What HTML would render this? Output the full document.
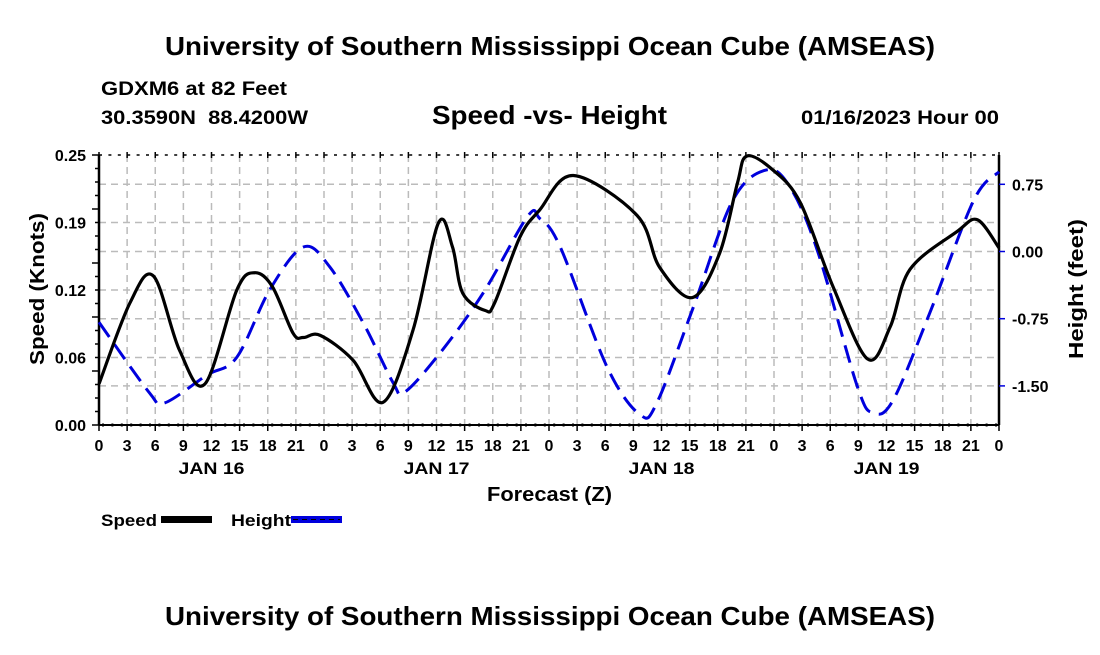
<!DOCTYPE html>
<html><head><meta charset="utf-8"><style>
body{margin:0;background:#fff;}
svg text{font-family:"Liberation Sans",Arial,sans-serif;font-weight:bold;fill:#000;}
</style></head><body>
<svg id="chart" width="1100" height="650" xmlns="http://www.w3.org/2000/svg">
<text x="165" y="55" font-size="26" textLength="770" lengthAdjust="spacingAndGlyphs">University of Southern Mississippi Ocean Cube (AMSEAS)</text>
<text x="101" y="95" font-size="19" textLength="186" lengthAdjust="spacingAndGlyphs">GDXM6 at 82 Feet</text>
<text x="101" y="124" font-size="19" textLength="207" lengthAdjust="spacingAndGlyphs" xml:space="preserve">30.3590N  88.4200W</text>
<text x="432" y="124" font-size="26" textLength="235" lengthAdjust="spacingAndGlyphs">Speed -vs- Height</text>
<text x="801" y="124" font-size="19" textLength="198" lengthAdjust="spacingAndGlyphs">01/16/2023 Hour 00</text>
<g id="grid"></g>
<g id="axes"></g>
<g id="series"></g>
<text x="487" y="501" font-size="20" textLength="125" lengthAdjust="spacingAndGlyphs">Forecast (Z)</text>
<text transform="translate(44,289) rotate(-90)" font-size="20" text-anchor="middle" textLength="152" lengthAdjust="spacingAndGlyphs">Speed (Knots)</text>
<text transform="translate(1083,289) rotate(-90)" font-size="20" text-anchor="middle" textLength="140" lengthAdjust="spacingAndGlyphs">Height (feet)</text>
<g>
<text x="101" y="526" font-size="17" textLength="56" lengthAdjust="spacingAndGlyphs">Speed</text>
<rect x="161" y="516" width="51" height="7" fill="#000"/>
<text x="231" y="526" font-size="17" textLength="60" lengthAdjust="spacingAndGlyphs">Height</text>
<rect x="291" y="516" width="51" height="7" fill="#0000dd"/>
<line x1="293" y1="519.5" x2="340" y2="519.5" stroke="#000" stroke-width="1" stroke-dasharray="5,4"/>
</g>
<text x="165" y="625" font-size="26" textLength="770" lengthAdjust="spacingAndGlyphs">University of Southern Mississippi Ocean Cube (AMSEAS)</text>
</svg>
<script>
const speedHours=[0,3.3,5.8,8.6,11.3,14.7,16.6,18.5,20.7,21.8,23.6,27.1,30.3,33.5,36.2,37.7,38.8,41.2,42.2,44.9,47,50.6,57.4,59.8,63.3,66.2,68.1,69.1,71.9,74.8,78.3,82.0,84.4,86.5,91.5,93.7,96];
const speedValues=[0.038,0.113,0.138,0.069,0.038,0.125,0.141,0.128,0.085,0.081,0.083,0.060,0.021,0.088,0.187,0.165,0.122,0.106,0.113,0.174,0.199,0.231,0.194,0.146,0.118,0.159,0.224,0.249,0.236,0.206,0.128,0.061,0.091,0.144,0.179,0.190,0.164];
const heightHours=[0,5.4,7.0,11.5,14.7,18.2,21.8,24.6,28.2,31.4,32.6,36.4,41.0,45.7,47,49.2,54.2,57.7,59.5,63.4,67.6,71.2,73.7,76.6,80.9,82.6,84.7,88.6,93.3,96];
const heightValues=[-0.79,-1.58,-1.69,-1.38,-1.18,-0.43,0.05,-0.17,-0.80,-1.47,-1.57,-1.13,-0.46,0.39,0.37,0.05,-1.29,-1.82,-1.69,-0.62,0.57,0.91,0.72,0.02,-1.51,-1.80,-1.66,-0.69,0.57,0.89];
const speedTicks=[0,0.0625,0.125,0.1875,0.25];
const speedTickLabels=["0.00","0.06","0.12","0.19","0.25"];
const heightTicks=[0.75,0,-0.75,-1.5];
const heightTickLabels=["0.75","0.00","-0.75","-1.50"];
const hourLabels=["0","3","6","9","12","15","18","21"];
const dayLabels=["JAN 16","JAN 17","JAN 18","JAN 19"];

const L=99,R=999,T=155,B=425;
const xS=h=>L+h*(R-L)/96;
const yS=v=>B-v*(B-T)/0.25;
const yH=f=>251.5-f*67.2/0.75;
const NS="http://www.w3.org/2000/svg";
function mk(parent,tag,attrs){const e=document.createElementNS(NS,tag);for(const k in attrs)e.setAttribute(k,attrs[k]);document.getElementById(parent).appendChild(e);return e;}
for(let i=1;i<32;i++){const g=mk('grid','line',{x1:xS(i*3),x2:xS(i*3),y1:T,y2:B,stroke:'#bbb','stroke-width':1.5,'stroke-dasharray':'7,5'});

}
[...speedTicks.slice(1,4).map(yS),...heightTicks.map(yH)].forEach(y=>{const g=mk('grid','line',{x1:L,x2:R,y1:y,y2:y,stroke:'#bbb','stroke-width':1.5,'stroke-dasharray':'7,5'});

});
mk('axes','line',{x1:L,x2:L,y1:T,y2:B,stroke:'#000','stroke-width':2.5});
mk('axes','line',{x1:R,x2:R,y1:T,y2:B,stroke:'#000','stroke-width':2.5});
mk('axes','line',{x1:L,x2:R,y1:B,y2:B,stroke:'#000','stroke-width':2});
mk('axes','line',{x1:L,x2:R,y1:T,y2:T,stroke:'#000','stroke-width':1.5,'stroke-dasharray':'3,6.4'});
mk('axes','line',{x1:L,x2:R,y1:B,y2:B,stroke:'#000','stroke-width':3,'stroke-dasharray':'2,7.4','stroke-dashoffset':'-3'});
for(let i=0;i<=32;i++){const x=xS(i*3);mk('axes','line',{x1:x,x2:x,y1:B,y2:B+6,stroke:'#000','stroke-width':1.5});mk('axes','line',{x1:x,x2:x,y1:T-3,y2:T+3,stroke:'#000','stroke-width':1.5});
const t=mk('axes','text',{x:x,y:451,'font-size':16,'text-anchor':'middle'});t.textContent=i==32?'0':hourLabels[i%8];

}
dayLabels.forEach((d,i)=>{const t=mk('axes','text',{x:xS(12+24*i),y:474,'font-size':17,'text-anchor':'middle',textLength:66,lengthAdjust:'spacingAndGlyphs'});t.textContent=d;

});
for(let i=0;i<=20;i++){const y=B-i*(B-T)/20;mk('axes','line',{x1:L-(i%4==0?7:4),x2:L,y1:y,y2:y,stroke:'#000','stroke-width':1.5});}
speedTicks.forEach((v,i)=>{const t=mk('axes','text',{x:86,y:yS(v)+6,'font-size':16,'text-anchor':'end'});t.textContent=speedTickLabels[i];

});
heightTicks.forEach((v,i)=>{mk('axes','line',{x1:R,x2:R+6,y1:yH(v),y2:yH(v),stroke:'#0000dd','stroke-width':1.5});
const t=mk('axes','text',{x:1012,y:yH(v)+6,'font-size':16});t.textContent=heightTickLabels[i];

});
function path(xs,ys){const p=xs.map((x,i)=>[x,ys[i]]);let d=`M${p[0][0]},${p[0][1]}`;
for(let i=0;i<p.length-1;i++){const p0=p[i-1]||p[i],p1=p[i],p2=p[i+1],p3=p[i+2]||p2;
d+=` C${p1[0]+(p2[0]-p0[0])/6},${p1[1]+(p2[1]-p0[1])/6} ${p2[0]-(p3[0]-p1[0])/6},${p2[1]-(p3[1]-p1[1])/6} ${p2[0]},${p2[1]}`;}return d;}
const hp=mk('series','path',{d:path(heightHours.map(xS),heightValues.map(yH)),fill:'none',stroke:'#0000dd','stroke-width':3,'stroke-dasharray':'18,9'});


const sp=mk('series','path',{d:path(speedHours.map(xS),speedValues.map(yS)),fill:'none',stroke:'#000','stroke-width':3.2});


</script>
</body></html>
